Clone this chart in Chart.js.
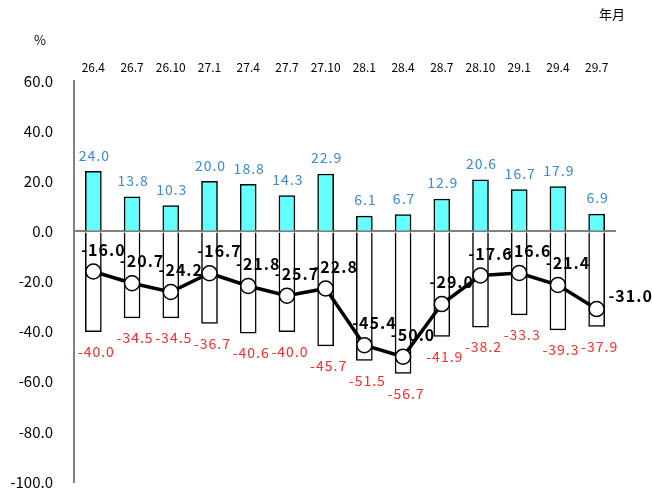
<!DOCTYPE html>
<html>
<head>
<meta charset="utf-8">
<script src="https://cdn.jsdelivr.net/npm/chart.js@4"></script>
<style>
  body { margin: 0; background: #fff; }
  #wrap { width: 652px; height: 494px; position: relative; }
</style>
</head>
<body>
<div id="wrap"><canvas id="chart"></canvas></div>
<script>
// 年月ラベル
const labels = ['26.4', '26.7', '26.10', '27.1', '27.4', '27.7', '27.10', '28.1', '28.4', '28.7', '28.10', '29.1', '29.4', '29.7'];
// 上昇（プラス）
const upValues = [24.0, 13.8, 10.3, 20.0, 18.8, 14.3, 22.9, 6.1, 6.7, 12.9, 20.6, 16.7, 17.9, 6.9];
// 下降（マイナス）
const downValues = [-40.0, -34.5, -34.5, -36.7, -40.6, -40.0, -45.7, -51.5, -56.7, -41.9, -38.2, -33.3, -39.3, -37.9];
// 差引
const netValues = [-16.0, -20.7, -24.2, -16.7, -21.8, -25.7, -22.8, -45.4, -50.0, -29.0, -17.6, -16.6, -21.4, -31.0];

const FONT = '"Noto Sans CJK JP", "Noto Sans", sans-serif';

// 数値ラベルと単位を描くプラグイン
const labelPlugin = {
    id: 'labelPlugin',
    afterDatasetsDraw(chart) {
        const ctx = chart.ctx;
        ctx.save();
        ctx.textAlign = 'center';
        ctx.textBaseline = 'middle';
        ctx.letterSpacing = '1px';

        const upMeta = chart.getDatasetMeta(1);
        ctx.font = '14px ' + FONT;
        ctx.fillStyle = '#3a8ad4';
        upMeta.data.forEach((bar, i) => {
            ctx.fillText(upValues[i].toFixed(1), bar.x + 1, bar.y - 16);
        });

        const downMeta = chart.getDatasetMeta(2);
        ctx.fillStyle = '#ff2a2a';
        downMeta.data.forEach((bar, i) => {
            ctx.fillText(downValues[i].toFixed(1), bar.x + 3, bar.y + 20);
        });

        const netMeta = chart.getDatasetMeta(0);
        ctx.font = 'bold 16px ' + FONT;
        ctx.fillStyle = '#000';
        netMeta.data.forEach((pt, i) => {
            const last = i === netMeta.data.length - 1;
            const dx = last ? 34 : 10;
            const dy = last ? -13 : -22;
            ctx.fillText(netValues[i].toFixed(1), pt.x + dx, pt.y + dy);
        });

        ctx.letterSpacing = '0px';
        ctx.font = '13px ' + FONT;
        ctx.fillText('%', 40, 40);
        ctx.fillText('年月', 612, 14);
        ctx.restore();
    }
};

const chart = new Chart(document.getElementById('chart'), {
    type: 'bar',
    data: {
        labels: labels,
        datasets: [{
            type: 'line',
            data: netValues,
            borderColor: '#000',
            borderWidth: 3.5,
            pointRadius: 7.5,
            pointBackgroundColor: '#fff',
            pointBorderColor: '#000',
            pointBorderWidth: 1.5,
            tension: 0,
            order: 0
        }, {
            data: upValues,
            backgroundColor: '#66ffff',
            borderColor: '#000',
            borderWidth: 1.5,
            barThickness: 16,
            grouped: false,
            order: 1
        }, {
            data: downValues,
            backgroundColor: '#fff',
            borderColor: '#000',
            borderWidth: 1.5,
            barThickness: 16,
            grouped: false,
            order: 1
        }]
    },
    options: {
        responsive: true,
        maintainAspectRatio: false,
        animation: false,
        layout: { padding: { top: 0, right: 36, bottom: 0, left: 0 } },
        plugins: {
            legend: { display: false },
            tooltip: { enabled: false }
        },
        scales: {
            x: {
                position: 'top',
                grid: { display: false },
                border: { display: false },
                ticks: {
                    color: '#000',
                    font: { family: FONT, size: 12 },
                    padding: -2,
                    maxRotation: 0
                },
                afterFit(scale) { scale.height = 81; }
            },
            y: {
                min: -100,
                max: 60,
                ticks: {
                    stepSize: 20,
                    color: '#000',
                    font: { family: FONT, size: 15 },
                    padding: 21,
                    callback: (v) => Number(v).toFixed(1)
                },
                grid: {
                    drawTicks: false,
                    lineWidth: 2,
                    color: (c) => (c.tick && c.tick.value === 0 ? '#808080' : 'rgba(0,0,0,0)')
                },
                border: { color: '#808080', width: 2 },
                afterFit(scale) {
                    scale.width = 74;
                    scale.paddingTop = 0;
                    scale.paddingBottom = 12;
                }
            }
        }
    },
    plugins: [labelPlugin]
});
</script>
</body>
</html>
